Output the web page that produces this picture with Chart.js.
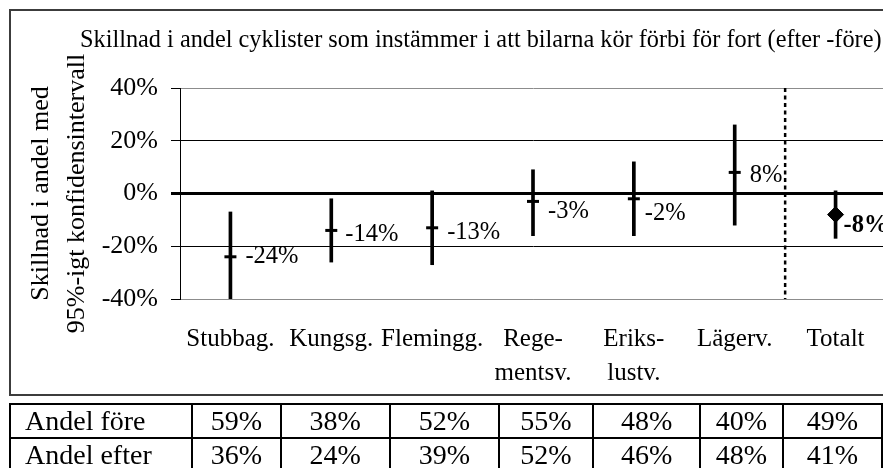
<!DOCTYPE html>
<html lang="sv">
<head>
<meta charset="utf-8">
<script src="https://cdn.jsdelivr.net/npm/chart.js@4.4.1/dist/chart.umd.min.js"></script>
<style>
  html, body { margin: 0; padding: 0; overflow: hidden; background: #fff; }
  body { width: 883px; height: 468px; position: relative; font-family: "Liberation Serif", "Times New Roman", serif; color: #000; }
  #frame { position: absolute; left: 9px; top: 9px; width: 900px; height: 387px; box-sizing: border-box; border: 2px solid #3c3c3c; pointer-events: none; }
  #chartWrap { position: absolute; left: 10px; top: 10px; width: 900px; height: 385px; }
  #title { position: absolute; left: 80px; top: 27px; font-size: 24.3px; line-height: 24px; white-space: nowrap; }
  #andelTable { position: absolute; left: 9px; top: 403px; border-collapse: collapse; table-layout: fixed; font-size: 28px; }
  #andelTable td { border: 2px solid #000; height: 32px; padding: 0; text-align: center; line-height: 30px; white-space: nowrap; }
  #andelTable td.rowhead { text-align: left; padding-left: 14px; }
</style>
</head>
<body>
<div id="chartWrap"><canvas id="ciChart" width="900" height="385"></canvas></div>
<div id="title">Skillnad i andel cyklister som instämmer i att bilarna kör förbi för fort (efter -före)</div>
<div id="frame"></div>
<table id="andelTable"></table>

<script>
// gator och värden
const categories = ['Stubbag.', 'Kungsg.', 'Flemingg.', ['Rege-', 'mentsv.'], ['Eriks-', 'lustv.'], 'Lägerv.', 'Totalt'];
const diffValues = [-24, -14, -13, -3, -2, 8, -8];
const ciLow = [-41, -26, -27, -16, -16, -12, -17];
const ciHigh = [-7, -2, 1, 9, 12, 26, 1];
const yTicks = [-40, -20, 0, 20, 40];

// tabellen under diagrammet
const rowLabels = ['Andel före', 'Andel efter'];
const andelFore = [59, 38, 52, 55, 48, 40, 49];
const andelEfter = [36, 24, 39, 52, 46, 48, 41];

const colWidths = [183, 89, 110, 110, 95, 108, 83, 100];

function buildTable() {
    const table = document.getElementById('andelTable');
    const colgroup = document.createElement('colgroup');
    colWidths.forEach(w => {
        const col = document.createElement('col');
        col.style.width = w + 'px';
        colgroup.appendChild(col);
    });
    table.appendChild(colgroup);
    [andelFore, andelEfter].forEach((vals, r) => {
        const tr = document.createElement('tr');
        const th = document.createElement('td');
        th.className = 'rowhead';
        th.textContent = rowLabels[r];
        tr.appendChild(th);
        vals.forEach(v => {
            const td = document.createElement('td');
            td.textContent = v + '%';
            tr.appendChild(td);
        });
        table.appendChild(tr);
    });
}
buildTable();

Chart.defaults.font.family = '"Liberation Serif", "Times New Roman", serif';
Chart.defaults.color = '#000';

// etiketter till höger om punkterna
const labelDx = [15, 14, 15, 15, 11, 15, 8];
const labelDy = [0, 4, 5, 10, 15, 3, 11];
const valueLabels = {
    id: 'valueLabels',
    afterDatasetsDraw(chart) {
        const ctx = chart.ctx;
        const meta = chart.getDatasetMeta(0);
        ctx.save();
        ctx.fillStyle = '#000';
        ctx.textAlign = 'left';
        ctx.textBaseline = 'middle';
        meta.data.forEach((pt, i) => {
            const last = i === diffValues.length - 1;
            ctx.font = (last ? 'bold ' : '') + '24.5px "Liberation Serif", serif';
            ctx.fillText(diffValues[i] + '%', pt.x + labelDx[i], pt.y + labelDy[i]);
        });
        ctx.restore();
    }
};

// streckad linje mellan gatorna och totalen
const totalDivider = {
    id: 'totalDivider',
    beforeDatasetsDraw(chart) {
        const x = chart.scales.x;
        const area = chart.chartArea;
        const px = (x.getPixelForTick(5) + x.getPixelForTick(6)) / 2;
        const ctx = chart.ctx;
        ctx.save();
        ctx.strokeStyle = '#000';
        ctx.lineWidth = 2.5;
        ctx.setLineDash([4, 3.5]);
        ctx.beginPath();
        ctx.moveTo(px, area.top);
        ctx.lineTo(px, area.bottom);
        ctx.stroke();
        ctx.restore();
    }
};

new Chart(document.getElementById('ciChart'), {
    data: {
        labels: categories,
        datasets: [
            {
                type: 'line',
                data: diffValues,
                showLine: false,
                pointStyle: diffValues.map((v, i) => i === diffValues.length - 1 ? 'rectRot' : 'line'),
                pointRadius: diffValues.map((v, i) => i === diffValues.length - 1 ? 8 : 6),
                pointHoverRadius: diffValues.map((v, i) => i === diffValues.length - 1 ? 8 : 6),
                pointBorderWidth: diffValues.map((v, i) => i === diffValues.length - 1 ? 1 : 3),
                pointBackgroundColor: '#000',
                pointBorderColor: '#000'
            },
            {
                type: 'bar',
                data: ciLow.map((lo, i) => [lo, ciHigh[i]]),
                backgroundColor: '#000',
                barThickness: 3
            }
        ]
    },
    options: {
        responsive: false,
        animation: false,
        events: [],
        layout: { padding: { top: 78, left: 0, right: 24, bottom: 0 } },
        plugins: { legend: { display: false }, tooltip: { enabled: false } },
        scales: {
            x: {
                grid: { display: false, drawTicks: false },
                border: { display: true, color: '#8c8c8c', width: 1 },
                ticks: { font: { size: 25, lineHeight: 34 / 25 }, padding: 23, maxRotation: 0, autoSkip: false },
                afterFit(s) { s.height = 96; }
            },
            y: {
                min: -40,
                max: 40,
                afterBuildTicks(s) { s.ticks = yTicks.map(v => ({ value: v })); },
                ticks: { font: { size: 26 }, padding: 13, callback: v => v + '%' },
                grid: {
                    tickLength: 9,
                    tickColor: '#000',
                    color: c => (c.tick && Math.abs(c.tick.value) === 40) ? '#8c8c8c' : '#000',
                    lineWidth: c => (c.tick && c.tick.value === 0) ? 3 : 1
                },
                border: { display: true, color: '#000', width: 1 },
                title: {
                    display: true,
                    text: ['Skillnad i andel med', '95%-igt konfidensintervall'],
                    font: { size: 26, lineHeight: 36 / 26 },
                    padding: { top: 13, bottom: 0 }
                },
                afterFit(s) { s.width = 170; }
            }
        }
    },
    plugins: [valueLabels, totalDivider]
});
</script>
</body>
</html>
